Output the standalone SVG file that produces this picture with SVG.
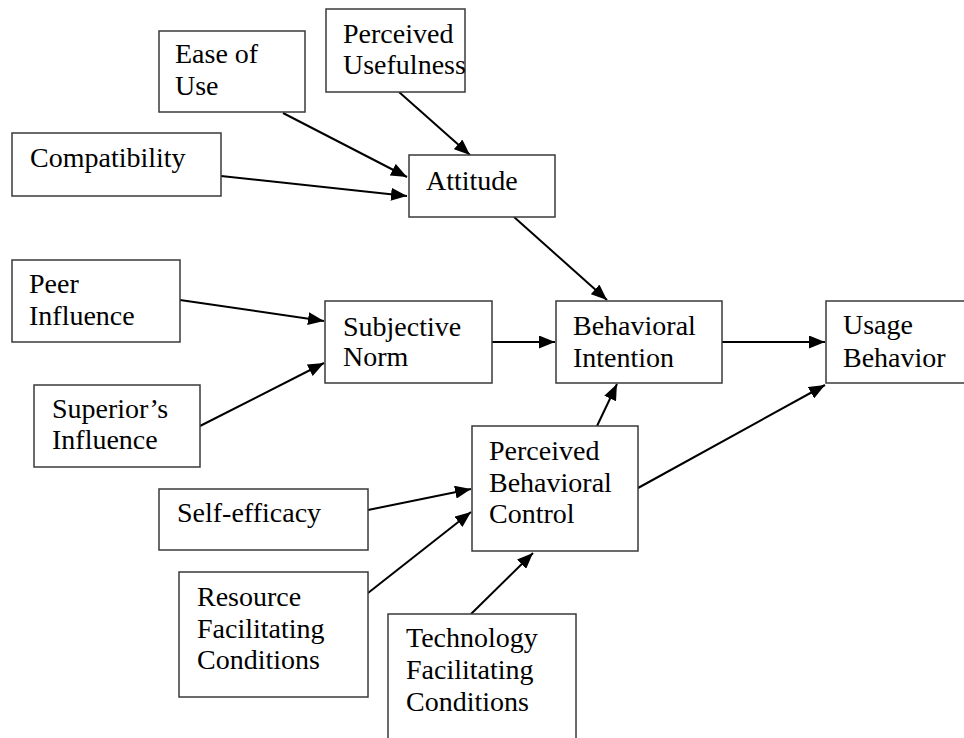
<svg xmlns="http://www.w3.org/2000/svg" width="964" height="738" viewBox="0 0 964 738">
  <style>
    .box { fill: #ffffff; stroke: #3a3a3a; stroke-width: 1.5; }
    .lbl { font-size: 28px; fill: #000000; }
    .edge { stroke: #000000; stroke-width: 2; fill: none; marker-end: url(#arrow); }
  </style>
  <defs>
    <marker id="arrow" markerUnits="userSpaceOnUse" markerWidth="17" markerHeight="13" refX="16" refY="6.5" orient="auto">
      <path d="M0,0 L16,6.5 L0,13 z" fill="#000000"/>
    </marker>
  </defs>
  <rect width="964" height="738" fill="#ffffff"/>

  <g id="connectors">
    <line class="edge" x1="283" y1="113" x2="407" y2="177"/>
    <line class="edge" x1="399" y1="92" x2="470" y2="155"/>
    <line class="edge" x1="221" y1="176" x2="407" y2="196"/>
    <line class="edge" x1="514" y1="217" x2="607" y2="300"/>
    <line class="edge" x1="180" y1="300" x2="324" y2="321"/>
    <line class="edge" x1="200" y1="426" x2="324" y2="363"/>
    <line class="edge" x1="492" y1="342" x2="555" y2="342"/>
    <line class="edge" x1="722" y1="342" x2="825" y2="342"/>
    <line class="edge" x1="597" y1="426" x2="617" y2="384"/>
    <line class="edge" x1="638" y1="488" x2="825" y2="385"/>
    <line class="edge" x1="368" y1="510" x2="471" y2="489"/>
    <line class="edge" x1="368" y1="593" x2="471" y2="512"/>
    <line class="edge" x1="471" y1="614" x2="533" y2="553"/>
  </g>

  <g font-family="'Liberation Serif', 'DejaVu Serif', 'Times New Roman', serif">
  <g id="ease-of-use">
    <rect class="box" x="159" y="31" width="146" height="81"/>
    <text class="lbl" x="175" y="63">Ease of</text>
    <text class="lbl" x="175" y="95">Use</text>
  </g>
  <g id="perceived-usefulness">
    <rect class="box" x="326" y="9" width="139" height="83"/>
    <text class="lbl" x="343" y="43">Perceived</text>
    <text class="lbl" x="343" y="74">Usefulness</text>
  </g>
  <g id="compatibility">
    <rect class="box" x="12" y="133" width="209" height="63"/>
    <text class="lbl" x="30" y="167">Compatibility</text>
  </g>
  <g id="attitude">
    <rect class="box" x="409" y="155" width="146" height="62"/>
    <text class="lbl" x="426" y="190">Attitude</text>
  </g>
  <g id="peer-influence">
    <rect class="box" x="12" y="260" width="168" height="82"/>
    <text class="lbl" x="29" y="293">Peer</text>
    <text class="lbl" x="29" y="325">Influence</text>
  </g>
  <g id="subjective-norm">
    <rect class="box" x="325" y="301" width="167" height="82"/>
    <text class="lbl" x="343" y="336">Subjective</text>
    <text class="lbl" x="343" y="366">Norm</text>
  </g>
  <g id="superiors-influence">
    <rect class="box" x="34" y="385" width="166" height="82"/>
    <text class="lbl" x="52" y="418">Superior’s</text>
    <text class="lbl" x="52" y="449">Influence</text>
  </g>
  <g id="behavioral-intention">
    <rect class="box" x="556" y="301" width="166" height="82"/>
    <text class="lbl" x="573" y="335">Behavioral</text>
    <text class="lbl" x="573" y="367">Intention</text>
  </g>
  <g id="usage-behavior">
    <rect class="box" x="826" y="301" width="150" height="82"/>
    <text class="lbl" x="843" y="334">Usage</text>
    <text class="lbl" x="843" y="367">Behavior</text>
  </g>
  <g id="perceived-behavioral-control">
    <rect class="box" x="472" y="426" width="166" height="125"/>
    <text class="lbl" x="489" y="460">Perceived</text>
    <text class="lbl" x="489" y="492">Behavioral</text>
    <text class="lbl" x="489" y="523">Control</text>
  </g>
  <g id="self-efficacy">
    <rect class="box" x="159" y="489" width="209" height="61"/>
    <text class="lbl" x="177" y="522">Self-efficacy</text>
  </g>
  <g id="resource-facilitating-conditions">
    <rect class="box" x="179" y="572" width="189" height="125"/>
    <text class="lbl" x="197" y="606">Resource</text>
    <text class="lbl" x="197" y="638">Facilitating</text>
    <text class="lbl" x="197" y="669">Conditions</text>
  </g>
  <g id="technology-facilitating-conditions">
    <rect class="box" x="388" y="614" width="188" height="140"/>
    <text class="lbl" x="406" y="647">Technology</text>
    <text class="lbl" x="406" y="679">Facilitating</text>
    <text class="lbl" x="406" y="711">Conditions</text>
  </g>
  </g>
</svg>
